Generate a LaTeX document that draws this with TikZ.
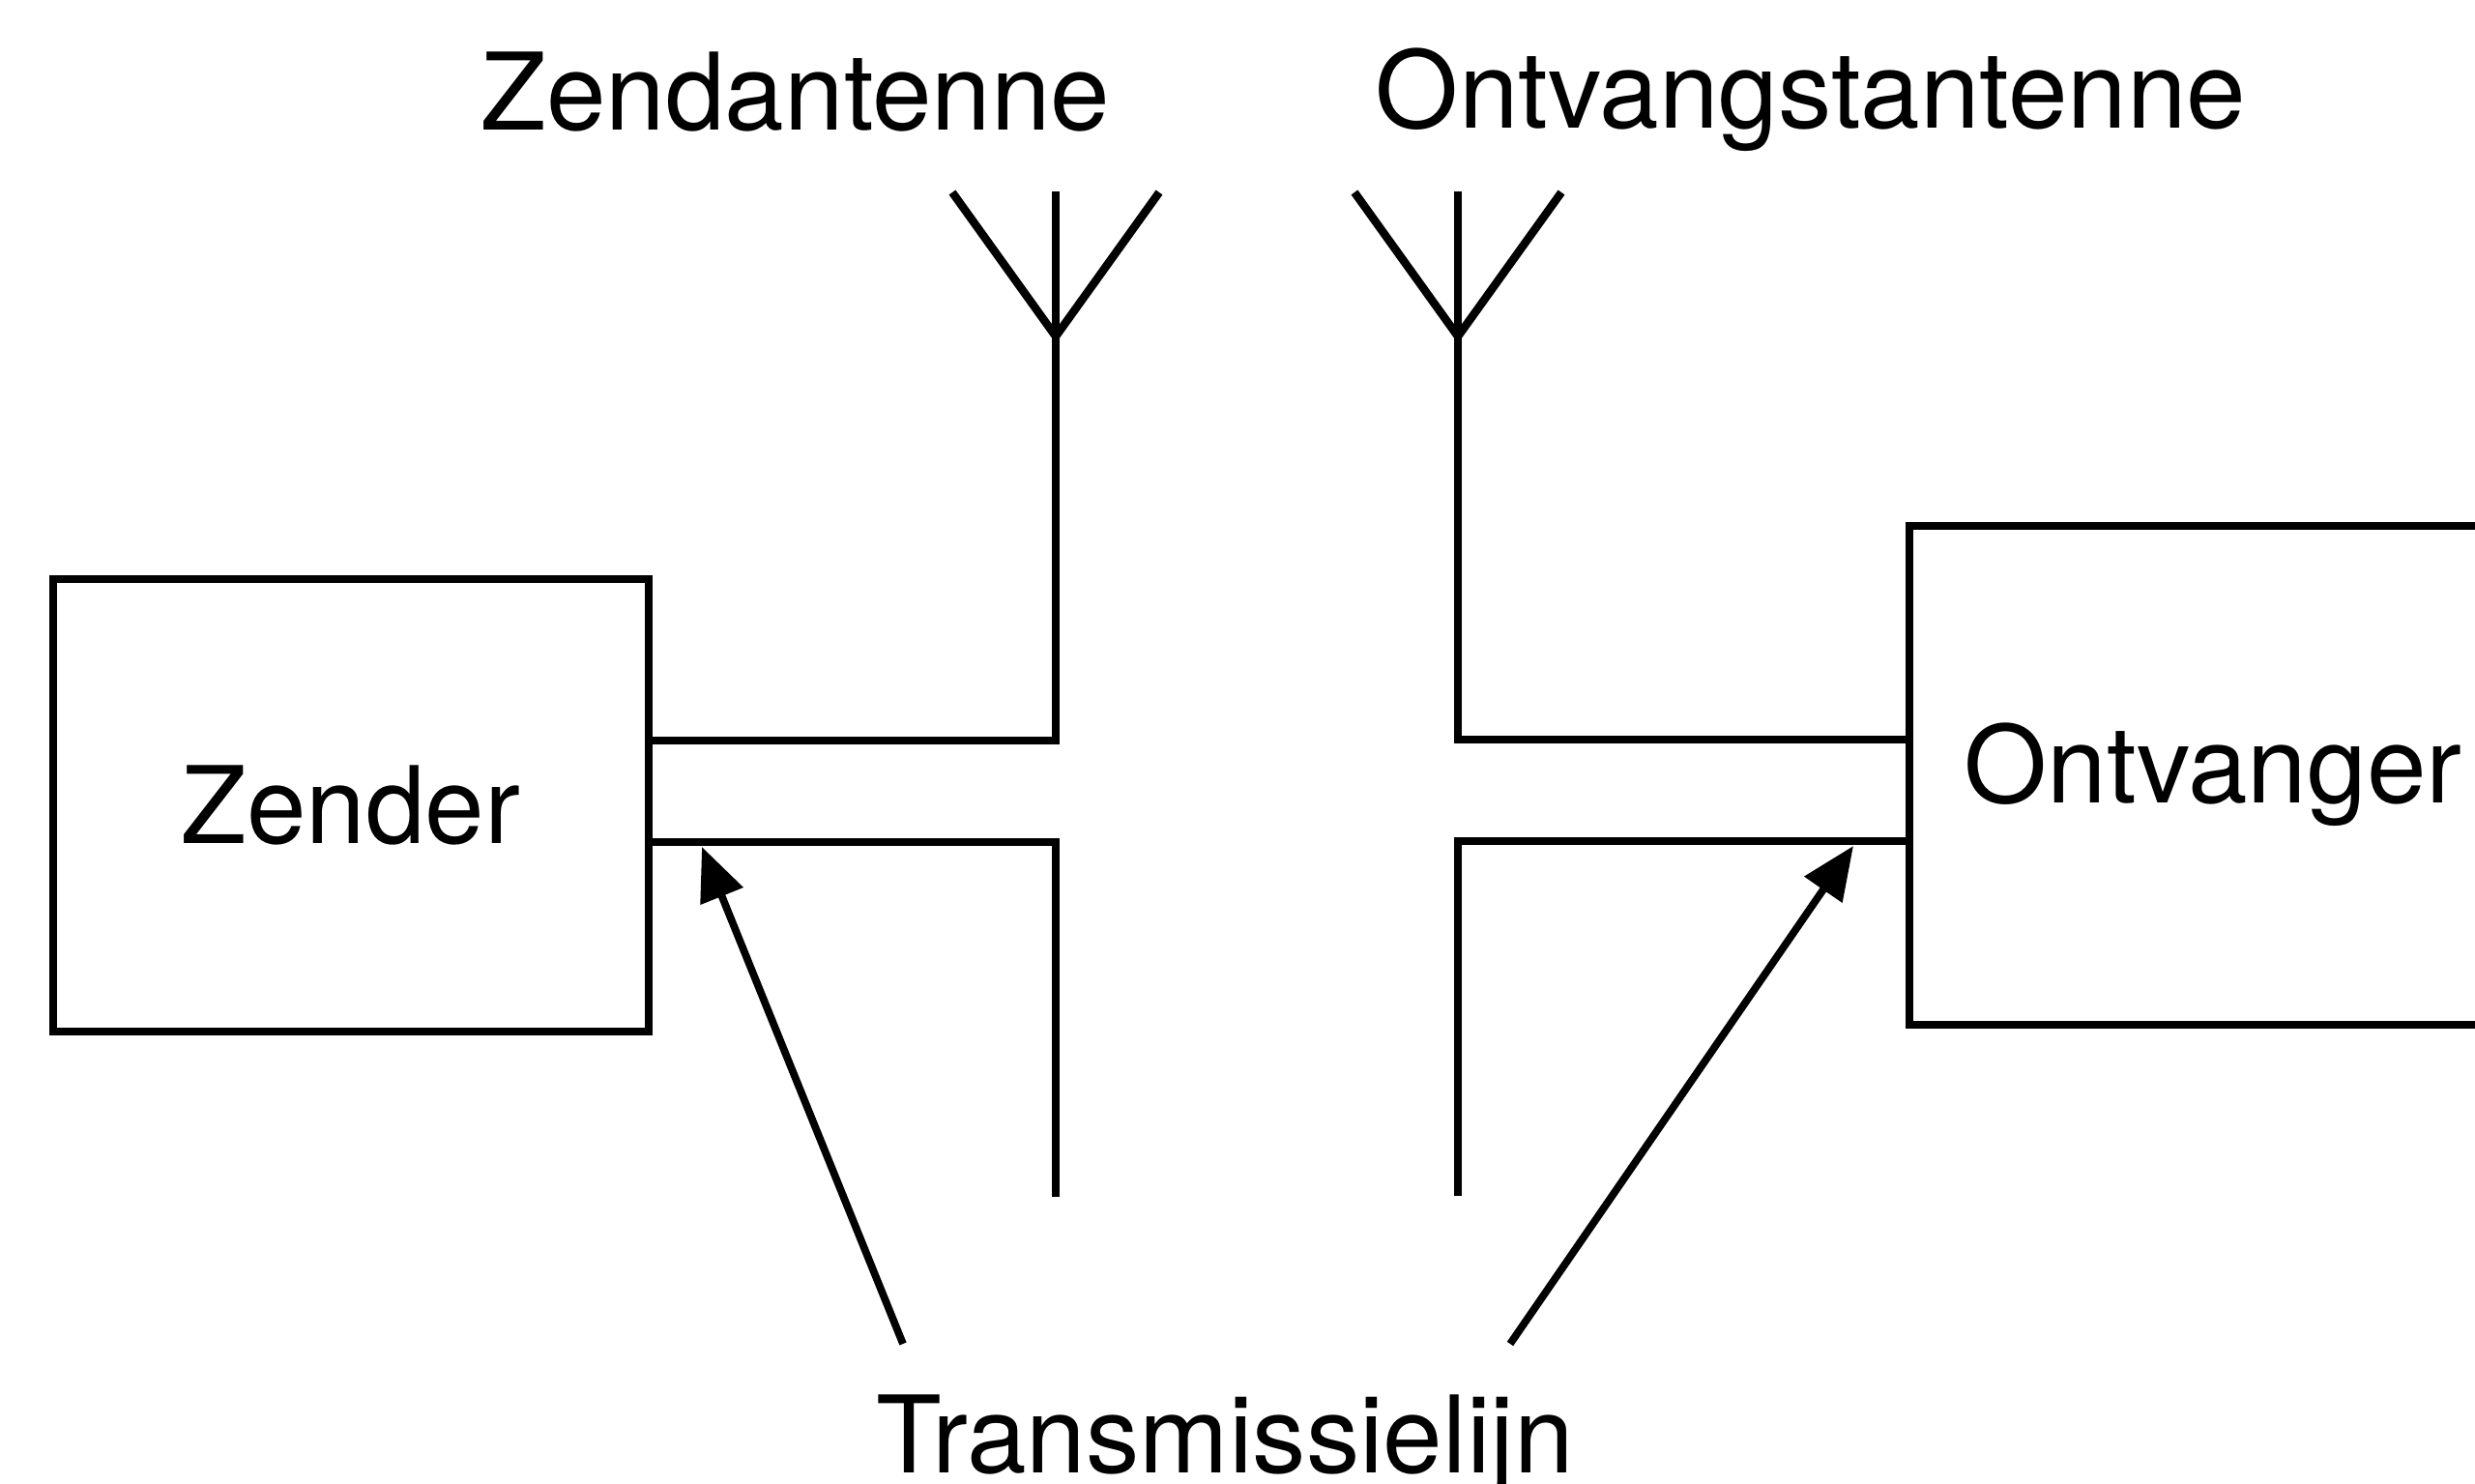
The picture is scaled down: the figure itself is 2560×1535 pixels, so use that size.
\documentclass[tikz,border=0pt]{standalone}
\usepackage{fontspec}
\setmainfont{TeX Gyre Heros}
\usepackage{xcolor}
\usepackage{tikz}
\usetikzlibrary{calc,arrows.meta}
\tikzset{
  base/.style={draw=black, line width=2.4pt, line cap=butt, line join=miter},
  box/.style={base, rectangle, inner sep=0pt, font=\fontsize{31.5}{36}\selectfont,
    text height=22.7pt, text depth=0pt},
  lab/.style={font=\fontsize{31.5}{36}\selectfont, inner sep=0pt,
    text height=22.7pt, text depth=0pt},
  arr/.style={draw=black, line width=2.2pt, -{Triangle[length=5.5mm,width=4.6mm]}},
}
\begin{document}
\begin{tikzpicture}[x=0.1mm, y=-0.1mm]
  \clip (0,0) rectangle (2560,1535);
  % zender en ontvanger
  \node[box, minimum width=61.6mm, minimum height=46.8mm] (zend) at (363,833) {Zender};
  \node[box, minimum width=62.8mm, minimum height=51.6mm, text depth=6.2pt] (ontv) at (2289,802) {Ontvanger};
  % antennes
  \coordinate (za) at (1092,348);
  \coordinate (oa) at (1508,348);
  \coordinate (zup) at (1092,766);
  \coordinate (zlo) at (1092,871);
  \coordinate (oup) at (1508,765);
  \coordinate (olo) at (1508,870);
  \draw[base] ($(za)+(-107,-149)$) -- (za) -- ($(za)+(107,-149)$);
  \draw[base] ($(oa)+(-107,-149)$) -- (oa) -- ($(oa)+(107,-149)$);
  \draw[base] ($(za)+(0,-150)$) -- (zup) -- (zend.east |- zup);
  \draw[base] (zend.east |- zlo) -- (zlo) -- ($(zlo)+(0,367)$);
  \draw[base] ($(oa)+(0,-150)$) -- (oup) -- (ontv.west |- oup);
  \draw[base] (ontv.west |- olo) -- (olo) -- ($(olo)+(0,367)$);
  \node[lab] (zlab) at (823,95) {Zendantenne};
  \node[lab] (olab) at (1873,93) {Ontvangstantenne};
  % transmissielijn
  \node[lab] (tlab) at (1267,1484) {Transmissielijn};
  \coordinate (tl) at (934,1390);
  \coordinate (tr) at (1562,1390);
  \draw[arr] (tl) -- (726,876);
  \draw[arr] (tr) -- (1917,875);
\end{tikzpicture}
\end{document}
